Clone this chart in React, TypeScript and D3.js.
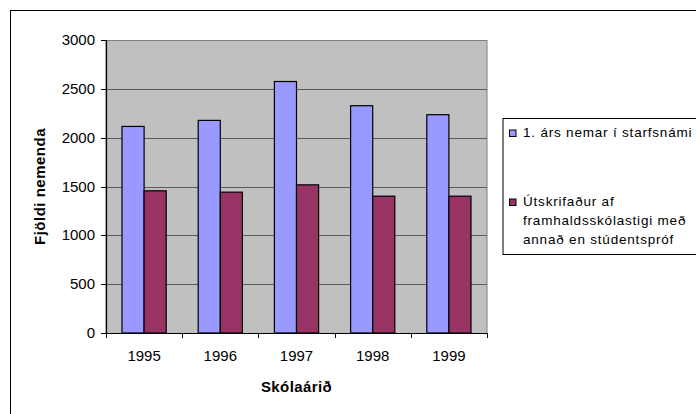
import React from 'react';
import * as d3 from 'd3';

const years = ['1995', '1996', '1997', '1998', '1999'];
const firstYear = [2115, 2177, 2575, 2327, 2235];
const graduated = [1456, 1442, 1517, 1401, 1401];
const legendLines = [['1. árs nemar í starfsnámi'], ['Útskrifaður af', 'framhaldsskólastigi með', 'annað en stúdentspróf']];
const seriesColors = ['#9999FF', '#993366'];
const yTicks = [0, 500, 1000, 1500, 2000, 2500, 3000];

const W = 696;
const H = 414;
const plot = { left: 106, top: 40, right: 487, bottom: 333 };
const font = 'Arial, "Liberation Sans", sans-serif';

const App = () => {
  const x = d3.scaleBand().domain(years).range([plot.left, plot.right]);
  const y = d3.scaleLinear().domain([0, 3000]).range([plot.bottom, plot.top]);
  const bw = x.bandwidth() * 0.29;
  const series = [firstYear, graduated];
  const legendY = [137, 206];

  return (
    <svg width={W} height={H} style={{ position: 'absolute', left: 0, top: 0 }}>
      <rect x={10.5} y={10.5} width={W} height={H} fill="white" stroke="black" />
      <rect
        x={plot.left}
        y={plot.top + 0.5}
        width={plot.right - plot.left}
        height={plot.bottom - plot.top}
        fill="#C0C0C0"
        stroke="#808080"
      />
      {yTicks.slice(1, -1).map(t => (
        <line key={t} x1={plot.left} x2={plot.right} y1={Math.round(y(t)) + 0.5} y2={Math.round(y(t)) + 0.5} stroke="#5a5a5a" strokeWidth={1.2} />
      ))}
      {years.map((yr, i) => {
        const cx = x(yr)! + x.bandwidth() / 2;
        return series.map((s, j) => (
          <rect
            key={yr + j}
            x={cx - bw + j * bw}
            y={y(s[i])}
            width={bw}
            height={y(0) - y(s[i])}
            fill={seriesColors[j]}
            stroke="black"
            strokeWidth={1.2}
          />
        ));
      })}
      {/* axes */}
      <line x1={plot.left + 0.5} x2={plot.left + 0.5} y1={plot.top} y2={plot.bottom} stroke="black" strokeWidth={1.2} />
      <line x1={plot.left - 5} x2={plot.right} y1={plot.bottom + 0.5} y2={plot.bottom + 0.5} stroke="black" strokeWidth={1.2} />
      {yTicks.map(t => (
        <g key={t}>
          <line x1={plot.left - 5} x2={plot.left} y1={Math.round(y(t)) + 0.5} y2={Math.round(y(t)) + 0.5} stroke="black" />
          <text x={95} y={y(t) + 5} textAnchor="end" fontSize={15} fontFamily={font}>{t}</text>
        </g>
      ))}
      {years.map((yr, i) => (
        <g key={yr}>
          <line x1={Math.round(x(yr)!) + 0.5} x2={Math.round(x(yr)!) + 0.5} y1={plot.bottom} y2={plot.bottom + 5} stroke="black" />
          {i === years.length - 1 && (
            <line x1={plot.right + 0.5} x2={plot.right + 0.5} y1={plot.bottom} y2={plot.bottom + 5} stroke="black" />
          )}
          <text x={x(yr)! + x.bandwidth() / 2} y={361} textAnchor="middle" fontSize={15} fontFamily={font}>{yr}</text>
        </g>
      ))}
      <text x={(plot.left + plot.right) / 2} y={391.5} textAnchor="middle" fontSize={15} fontWeight="bold" fontFamily={font} letterSpacing={0.4}>
        Skólaárið
      </text>
      <text
        transform={`translate(45, ${(plot.top + plot.bottom) / 2}) rotate(-90)`}
        textAnchor="middle"
        fontSize={15}
        fontWeight="bold"
        fontFamily={font}
        letterSpacing={0.5}
      >
        Fjöldi nemenda
      </text>
      {/* legend */}
      <rect x={503} y={118.5} width={220} height={136} fill="white" stroke="black" />
      {legendLines.map((lines, j) => (
        <g key={j}>
          <rect x={509.5} y={legendY[j] - 7} width={6.5} height={6.5} fill={seriesColors[j]} stroke="black" />
          <text x={523} y={legendY[j]} fontSize={13.5} fontFamily={font} letterSpacing={0.8}>
            {lines.map((l, k) => (
              <tspan key={k} x={523} dy={k === 0 ? 0 : 19}>{l}</tspan>
            ))}
          </text>
        </g>
      ))}
    </svg>
  );
};

export default App;
